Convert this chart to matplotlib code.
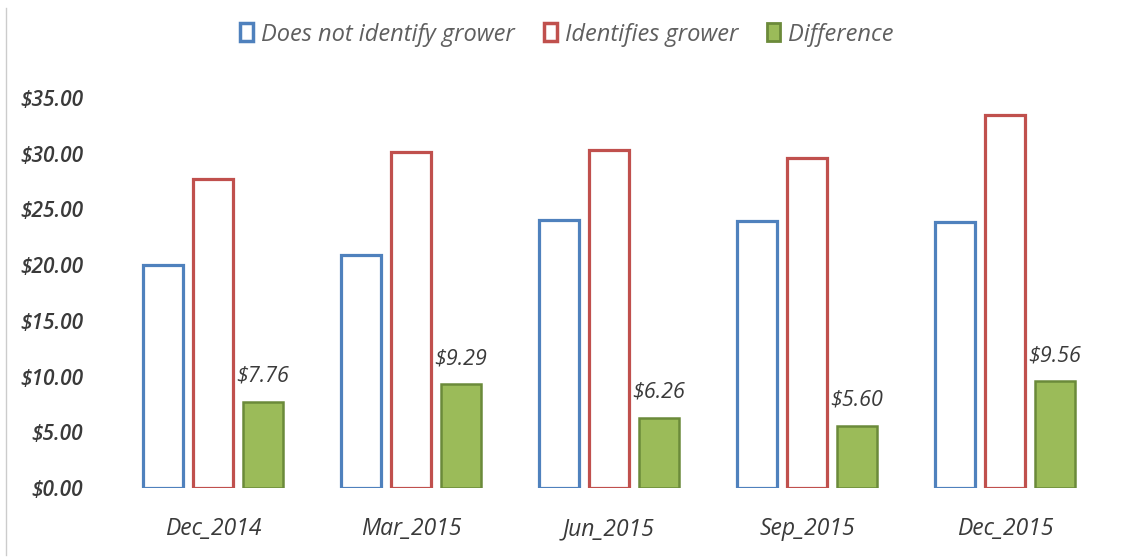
import matplotlib
matplotlib.use('Agg')
from matplotlib import pyplot as plt
from matplotlib.patches import Patch
from matplotlib.lines import Line2D
import numpy as np

plt.rcParams['font.family'] = ['Open Sans', 'DejaVu Sans']

quarters = ['Dec_2014', 'Mar_2015', 'Jun_2015', 'Sep_2015', 'Dec_2015']
not_identify = [20.0, 20.9, 24.06, 24.0, 23.9]
identifies = [27.76, 30.19, 30.32, 29.6, 33.46]
difference = [7.76, 9.29, 6.26, 5.60, 9.56]
diff_labels = ['$7.76', '$9.29', '$6.26', '$5.60', '$9.56']
y_ticks = [0, 5, 10, 15, 20, 25, 30, 35]

blue = '#4f81bd'
red = '#c0504d'
green = '#9bbb59'
green_edge = '#6b8a3a'
text_dark = '#3a3a3a'
text_grey = '#5f5f5f'

fig = plt.figure(figsize=(11.29, 5.58), dpi=100)
ax = fig.add_axes([114 / 1129, 70 / 558, 990 / 1129, 390 / 558])

x = np.arange(len(quarters))
width = 0.2
step = 0.252

ax.bar(x - step, not_identify, width=width, facecolor='white', edgecolor=blue, linewidth=2.3)
ax.bar(x, identifies, width=width, facecolor='white', edgecolor=red, linewidth=2.3)
bars = ax.bar(x + step, difference, width=width, facecolor=green, edgecolor=green_edge, linewidth=1.8)

for b, lab in zip(bars, diff_labels):
    ax.annotate(lab, (b.get_x() + b.get_width() / 2, b.get_height()),
                xytext=(0, 11), textcoords='offset points', ha='center', va='bottom',
                fontsize=15.5, style='italic', color=text_dark)

ax.set_xlim(-0.5, 4.5)
ax.set_ylim(0, 35)
ax.set_xticks(x)
ax.set_xticklabels(quarters, fontsize=16.5, style='italic', color=text_dark)
ax.set_yticks(y_ticks)
ax.set_yticklabels(['$%.2f' % v for v in y_ticks], fontsize=15, style='italic',
                   fontweight='semibold', color=text_dark)
ax.tick_params(axis='both', length=0)
ax.tick_params(axis='y', pad=22)
ax.tick_params(axis='x', pad=21)
for s in ax.spines.values():
    s.set_visible(False)

handles = [Patch(facecolor='white', edgecolor=blue, linewidth=2.5),
           Patch(facecolor='white', edgecolor=red, linewidth=2.5),
           Patch(facecolor=green, edgecolor=green_edge, linewidth=2)]
leg = fig.legend(handles, ['Does not identify grower', 'Identifies grower', 'Difference'],
                 loc='center', bbox_to_anchor=(0.502, 0.938), ncol=3, frameon=False,
                 handlelength=0.55, handleheight=0.8, handletextpad=0.35, columnspacing=1.2,
                 prop={'size': 17, 'style': 'italic'})
for t in leg.get_texts():
    t.set_color(text_grey)

# thin border on the left edge
fig.add_artist(Line2D([6 / 1129, 6 / 1129], [0.005, 0.985], color='#cccccc', linewidth=1))

fig.savefig('out.png', dpi=100)
